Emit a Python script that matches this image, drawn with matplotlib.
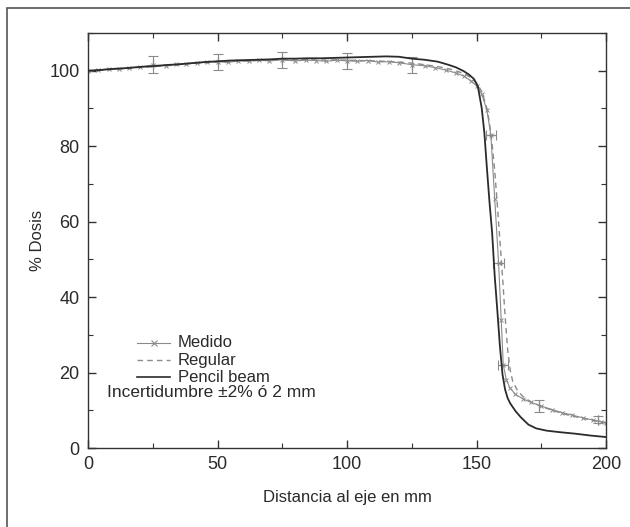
import matplotlib
matplotlib.use("Agg")
import matplotlib.pyplot as plt
from matplotlib.patches import Rectangle
from matplotlib.ticker import MultipleLocator

plt.rcParams['font.family'] = ['Liberation Sans', 'DejaVu Sans']

# Pencil beam calculation
pb_x = [0, 5, 10, 15, 20, 25, 30, 35, 40, 45, 50, 55, 60, 65, 70, 75, 80, 85, 90, 95,
        100, 105, 110, 115, 120, 125, 130, 135, 139, 142, 145, 147, 149, 150.5, 152, 153,
        154, 155, 156, 157, 158, 159, 160, 161, 162, 163, 165, 167, 170, 173, 177, 182,
        188, 194, 200]
pb_y = [100.0, 100.2, 100.5, 100.7, 101.0, 101.2, 101.5, 101.7, 102.0, 102.3, 102.5,
        102.7, 102.8, 102.9, 103.0, 103.2, 103.2, 103.3, 103.3, 103.4, 103.5, 103.6,
        103.7, 103.8, 103.7, 103.2, 102.9, 102.4, 101.6, 100.9, 99.9, 99.0, 97.8, 95.8,
        90.0, 83.5, 74.0, 65.0, 57.0, 45.5, 36.5, 27.0, 19.5, 15.5, 13.2, 11.8, 9.8, 8.2,
        6.2, 5.2, 4.6, 4.2, 3.8, 3.3, 2.9]

# Regular calculation
rg_x = [0, 5, 10, 15, 20, 25, 30, 35, 40, 45, 50, 55, 60, 65, 70, 75, 80, 85, 90, 95,
        100, 105, 110, 115, 120, 125, 130, 135, 140, 144, 147, 150, 152, 154, 155, 156,
        157, 158, 159, 160, 161, 162, 163, 164, 166, 168, 171, 175, 180, 185, 190, 195, 200]
rg_y = [99.8, 100.1, 100.4, 100.6, 100.9, 101.1, 101.3, 101.6, 101.9, 102.1, 102.3,
        102.5, 102.6, 102.7, 102.8, 102.9, 102.8, 102.9, 102.8, 102.9, 102.8, 102.7,
        102.6, 102.5, 102.3, 102.0, 101.6, 101.1, 100.4, 99.5, 98.5, 96.8, 94.5, 90.0,
        86.0, 80.5, 73.5, 64.5, 55.0, 45.5, 35.0, 26.0, 20.5, 17.5, 15.0, 13.6, 12.2,
        11.0, 9.8, 8.8, 8.0, 7.3, 6.6]

# Measured profile
md_x = [0, 4, 8, 12, 16, 20, 25, 30, 34, 38, 42, 46, 50, 54, 58, 62, 66, 70, 75, 80,
        84, 88, 92, 96, 100, 104, 108, 112, 116, 120, 125, 130, 134, 138, 142, 145, 148,
        150, 152, 154, 155.5, 157, 158.5, 159.5, 160.3, 161.5, 163, 165, 168, 171, 175,
        179, 183, 187, 191, 195, 198, 200]
md_y = [100.0, 100.2, 100.5, 100.4, 100.8, 101.0, 101.5, 101.3, 101.7, 101.9, 102.0,
        102.3, 102.4, 102.2, 102.6, 102.5, 102.8, 102.6, 102.9, 102.6, 102.8, 102.7,
        102.5, 102.8, 102.6, 102.5, 102.7, 102.3, 102.4, 102.1, 101.6, 101.3, 100.8,
        100.2, 99.4, 98.6, 97.2, 96.0, 93.8, 89.5, 83.0, 66.0, 49.0, 34.0, 22.0, 18.0,
        15.8, 14.2, 13.0, 12.1, 11.1, 10.2, 9.4, 8.7, 8.0, 7.4, 7.0, 6.7]

# Uncertainty bars on the measured profile (±2 % or 2 mm)
eb_x = [25, 50, 75, 100, 125, 155.5, 158.5, 160.3, 174, 197]
eb_y = [101.7, 102.3, 102.9, 102.6, 101.5, 83.0, 49.0, 22.0, 11.1, 7.5]
eb_xerr = [0, 0, 0, 0, 0, 2, 2, 2, 0, 0]
eb_yerr = [2.3, 2.2, 2.1, 2.2, 2.1, 0, 0, 0, 1.6, 1.0]

x_ticks = [0, 50, 100, 150, 200]
y_ticks = [0, 20, 40, 60, 80, 100]

fig = plt.figure(figsize=(6.3, 5.27), dpi=100)
ax = fig.add_axes([0.1397, 0.1499, 0.8224, 0.7875])

ax.plot(md_x, md_y, color='#8a8a8a', lw=0.8, marker='x', ms=3, mew=0.7, zorder=2)
ax.plot(rg_x, rg_y, color='#8a8a8a', lw=1.0, ls=(0, (4, 3)), zorder=2)
ax.plot(pb_x, pb_y, color='#2e2a2a', lw=1.3, zorder=3)
ax.errorbar(eb_x, eb_y, xerr=eb_xerr, yerr=eb_yerr, fmt='none', ecolor='#8a8a8a',
            elinewidth=0.8, capsize=3.5, capthick=0.8, zorder=2)

ax.set_xlim(0, 200)
ax.set_ylim(0, 110)
ax.set_xticks(x_ticks)
ax.set_yticks(y_ticks)
ax.xaxis.set_minor_locator(MultipleLocator(25))
ax.yaxis.set_minor_locator(MultipleLocator(10))
ax.tick_params(which='both', direction='in', top=True, right=True, labelsize=13,
               color='#333333', labelcolor='#2a2a2a', pad=6)
ax.tick_params(which='major', length=6, width=1)
ax.tick_params(which='minor', length=3.5, width=0.8)
for s in ax.spines.values():
    s.set_color('#333333')
    s.set_linewidth(1.0)

ax.set_xlabel('Distancia al eje en mm', fontsize=12, color='#2a2a2a', labelpad=12)
ax.set_ylabel('% Dosis', fontsize=12, color='#2a2a2a', labelpad=3)

# Key drawn inside the plotting area
ax.plot([18.9, 31.7], [27.9, 27.9], color='#8a8a8a', lw=0.8)
ax.plot([25.3], [27.9], color='#8a8a8a', marker='x', ms=4, mew=0.8)
ax.plot([18.9, 31.7], [23.3, 23.3], color='#8a8a8a', lw=1.0, ls=(0, (4, 3)))
ax.plot([18.9, 31.7], [18.8, 18.8], color='#2e2a2a', lw=1.2)
for yy, label in [(27.9, 'Medido'), (23.3, 'Regular'), (18.8, 'Pencil beam')]:
    ax.text(34.7, yy, label, fontsize=12, va='center', ha='left', color='#2a2a2a')
ax.text(7.3, 14.6, 'Incertidumbre ±2% ó 2 mm', fontsize=12.5, va='center', ha='left',
        color='#2a2a2a')

# Outer box around the figure
fig.patches.append(Rectangle((0.011, -0.2), 1.3, 1.185, transform=fig.transFigure,
                             fill=False, edgecolor='#555555', lw=1.2, clip_on=False))

fig.savefig('out.png', dpi=100)
